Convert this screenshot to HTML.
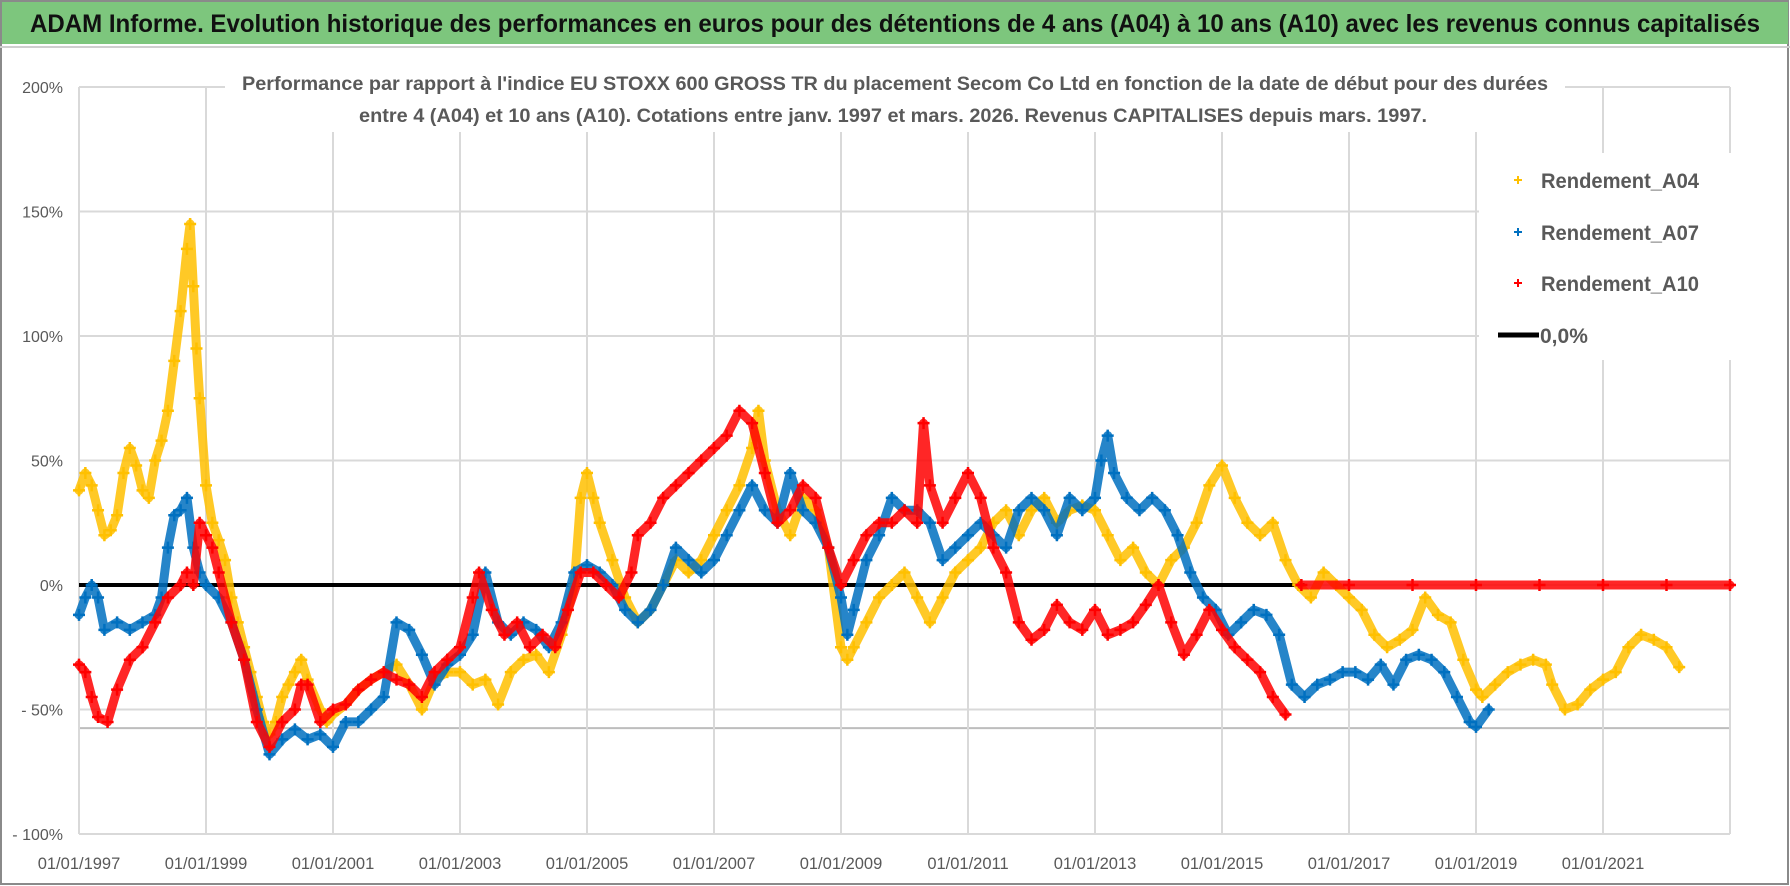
<!DOCTYPE html>
<html><head><meta charset="utf-8">
<style>
html,body{margin:0;padding:0;background:#fff;}
svg{display:block;font-family:"Liberation Sans",sans-serif;}
</style></head>
<body>
<svg id="chart" width="1790" height="886" viewBox="0 0 1790 886" xmlns="http://www.w3.org/2000/svg">
  <rect x="0" y="0" width="1790" height="886" fill="#fff"/>
  <rect x="1" y="1" width="1787" height="883" fill="none" stroke="#8a8a8a" stroke-width="2"/>
  <rect x="2" y="2" width="1786" height="42" fill="#7dc67d"/>
  <line x1="0" y1="47" x2="1790" y2="47" stroke="#cfcfcf" stroke-width="2"/>
  <text x="895" y="32" text-anchor="middle" font-size="25" font-weight="bold" fill="#111" textLength="1730" lengthAdjust="spacingAndGlyphs">ADAM Informe. Evolution historique des performances en euros pour des détentions de 4 ans (A04) à 10 ans (A10) avec les revenus connus capitalisés</text>
  <g id="grid"></g>
  <rect x="225" y="66" width="1340" height="66" fill="#fff"/>
  <text x="895" y="90" text-anchor="middle" font-size="19" font-weight="bold" fill="#595959" textLength="1306" lengthAdjust="spacingAndGlyphs">Performance par rapport à l'indice EU STOXX 600 GROSS TR  du placement Secom Co Ltd en fonction de la date de début pour des durées</text>
  <text x="893" y="122" text-anchor="middle" font-size="19" font-weight="bold" fill="#595959" textLength="1068" lengthAdjust="spacingAndGlyphs">entre 4 (A04) et 10 ans (A10).  Cotations entre janv. 1997 et mars. 2026.  Revenus CAPITALISES depuis mars. 1997.</text>
  <g id="ylabels"></g>
  <g id="xlabels"></g>
  <line id="zero" stroke="#000" stroke-width="4"/>
  <g id="series"></g>
  <g id="legend">
    <rect x="1479" y="153" width="259" height="207" fill="#fff"/>
  </g>
</svg>
<script>
const yTicks = [200,150,100,50,0,-50,-100];
const yTickLabels = ["200%","150%","100%","50%","0%","- 50%","- 100%"];
const xTickYears = [1997,1999,2001,2003,2005,2007,2009,2011,2013,2015,2017,2019,2021];
const xTickLabels = ["01/01/1997","01/01/1999","01/01/2001","01/01/2003","01/01/2005","01/01/2007","01/01/2009","01/01/2011","01/01/2013","01/01/2015","01/01/2017","01/01/2019","01/01/2021"];
const minLineValue = -57.5;

const a04Dates = [1997.0,1997.1,1997.2,1997.3,1997.4,1997.5,1997.6,1997.7,1997.8,1997.9,1998.0,1998.1,1998.2,1998.3,1998.4,1998.5,1998.6,1998.7,1998.75,1998.8,1998.85,1998.9,1999.0,1999.1,1999.2,1999.3,1999.4,1999.5,1999.6,1999.7,1999.8,1999.9,2000.0,2000.1,2000.2,2000.3,2000.4,2000.5,2000.6,2000.8,2000.9,2001.0,2001.2,2001.4,2001.6,2001.8,2002.0,2002.2,2002.4,2002.6,2002.8,2003.0,2003.2,2003.4,2003.6,2003.8,2004.0,2004.2,2004.4,2004.6,2004.8,2004.9,2005.0,2005.1,2005.2,2005.4,2005.6,2005.8,2006.0,2006.2,2006.4,2006.6,2006.8,2007.0,2007.2,2007.4,2007.6,2007.7,2007.8,2008.0,2008.2,2008.4,2008.6,2008.8,2009.0,2009.1,2009.2,2009.4,2009.6,2009.8,2010.0,2010.2,2010.4,2010.6,2010.8,2011.0,2011.2,2011.4,2011.6,2011.8,2012.0,2012.2,2012.4,2012.6,2012.8,2013.0,2013.2,2013.4,2013.6,2013.8,2014.0,2014.2,2014.4,2014.6,2014.8,2015.0,2015.2,2015.4,2015.6,2015.8,2016.0,2016.2,2016.4,2016.6,2016.8,2017.0,2017.2,2017.4,2017.6,2017.8,2018.0,2018.2,2018.4,2018.6,2018.8,2019.0,2019.1,2019.3,2019.5,2019.7,2019.9,2020.1,2020.2,2020.4,2020.6,2020.8,2021.0,2021.2,2021.4,2021.6,2021.8,2022.0,2022.2];
const a04Values = [38,45,40,30,20,22,28,45,55,48,38,35,50,58,70,90,110,135,145,120,95,75,40,25,18,10,-5,-15,-25,-35,-45,-55,-60,-55,-45,-40,-35,-30,-38,-50,-55,-52,-48,-42,-38,-35,-32,-40,-50,-38,-35,-35,-40,-38,-48,-35,-30,-28,-35,-20,0,35,45,35,25,10,-5,-15,-10,0,10,5,10,20,30,40,55,70,50,30,20,35,30,15,-25,-30,-25,-15,-5,0,5,-5,-15,-5,5,10,15,25,30,20,30,35,25,30,32,30,20,10,15,5,0,10,15,25,40,48,35,25,20,25,10,0,-5,5,0,-5,-10,-20,-25,-22,-18,-5,-12,-15,-30,-42,-45,-40,-35,-32,-30,-32,-40,-50,-48,-42,-38,-35,-25,-20,-22,-25,-33];

const a07Dates = [1997.0,1997.1,1997.2,1997.3,1997.4,1997.6,1997.8,1998.0,1998.2,1998.3,1998.4,1998.5,1998.6,1998.7,1998.8,1998.9,1999.0,1999.2,1999.4,1999.6,1999.8,2000.0,2000.2,2000.4,2000.6,2000.8,2001.0,2001.2,2001.4,2001.6,2001.8,2002.0,2002.2,2002.4,2002.6,2002.8,2003.0,2003.2,2003.4,2003.6,2003.8,2004.0,2004.2,2004.4,2004.6,2004.8,2005.0,2005.2,2005.4,2005.6,2005.8,2006.0,2006.2,2006.4,2006.6,2006.8,2007.0,2007.2,2007.4,2007.6,2007.8,2008.0,2008.2,2008.4,2008.6,2008.8,2009.0,2009.1,2009.2,2009.4,2009.6,2009.8,2010.0,2010.2,2010.4,2010.6,2010.8,2011.0,2011.2,2011.4,2011.6,2011.8,2012.0,2012.2,2012.4,2012.6,2012.8,2013.0,2013.1,2013.2,2013.3,2013.5,2013.7,2013.9,2014.1,2014.3,2014.5,2014.7,2014.9,2015.1,2015.3,2015.5,2015.7,2015.9,2016.1,2016.3,2016.5,2016.7,2016.9,2017.1,2017.3,2017.5,2017.7,2017.9,2018.1,2018.3,2018.5,2018.7,2018.9,2019.0,2019.2];
const a07Values = [-12,-5,0,-5,-18,-15,-18,-15,-12,-5,15,28,30,35,15,5,0,-5,-15,-30,-50,-68,-62,-58,-62,-60,-65,-55,-55,-50,-45,-15,-18,-28,-40,-32,-28,-20,5,-15,-20,-15,-18,-25,-15,5,8,5,0,-10,-15,-10,0,15,10,5,10,20,30,40,30,25,45,30,25,15,-5,-20,-10,10,20,35,30,30,25,10,15,20,25,20,15,30,35,30,20,35,30,35,50,60,45,35,30,35,30,20,5,-5,-10,-20,-15,-10,-12,-20,-40,-45,-40,-38,-35,-35,-38,-32,-40,-30,-28,-30,-35,-45,-55,-57,-50];

const a10Dates = [1997.0,1997.1,1997.2,1997.3,1997.45,1997.6,1997.8,1998.0,1998.2,1998.4,1998.6,1998.7,1998.8,1998.9,1999.0,1999.1,1999.2,1999.4,1999.6,1999.8,2000.0,2000.2,2000.4,2000.5,2000.6,2000.8,2001.0,2001.2,2001.4,2001.6,2001.8,2002.0,2002.2,2002.4,2002.6,2002.8,2003.0,2003.2,2003.3,2003.5,2003.7,2003.9,2004.1,2004.3,2004.5,2004.7,2004.9,2005.1,2005.3,2005.5,2005.7,2005.8,2006.0,2006.2,2006.4,2006.6,2006.8,2007.0,2007.2,2007.4,2007.6,2007.8,2008.0,2008.2,2008.4,2008.6,2008.8,2009.0,2009.2,2009.4,2009.6,2009.8,2010.0,2010.2,2010.3,2010.4,2010.6,2010.8,2011.0,2011.2,2011.4,2011.6,2011.8,2012.0,2012.2,2012.4,2012.6,2012.8,2013.0,2013.2,2013.4,2013.6,2013.8,2014.0,2014.2,2014.4,2014.6,2014.8,2015.0,2015.2,2015.4,2015.6,2015.8,2016.0,2016.25,2017.0,2018.0,2019.0,2020.0,2021.0,2022.0,2023.0];
const a10Values = [-32,-35,-45,-53,-55,-42,-30,-25,-15,-5,0,5,0,25,20,15,5,-15,-30,-55,-65,-55,-50,-40,-40,-55,-50,-48,-42,-38,-35,-38,-40,-45,-35,-30,-25,-5,5,-10,-20,-15,-25,-20,-25,-10,5,5,0,-5,5,20,25,35,40,45,50,55,60,70,65,45,25,30,40,35,15,0,10,20,25,25,30,25,65,40,25,35,45,35,15,5,-15,-22,-18,-8,-15,-18,-10,-20,-18,-15,-8,0,-15,-28,-20,-10,-18,-25,-30,-35,-45,-52,0,0,0,0,0,0,0,0];

const NS = "http://www.w3.org/2000/svg";
const X0 = 79, X1 = 1730, Y_TOP = 87, Y_BOT = 834;
const YEAR0 = 1997, YEAR1 = 2023, VMAX = 200, VMIN = -100;
function xScale(yr){ return X0 + (yr - YEAR0) / (YEAR1 - YEAR0) * (X1 - X0); }
function yScale(v){ return Y_TOP + (VMAX - v) / (VMAX - VMIN) * (Y_BOT - Y_TOP); }
function mk(tag, attrs, parent){ const e = document.createElementNS(NS, tag); for (const k in attrs) e.setAttribute(k, attrs[k]); parent.appendChild(e); return e; }

const grid = document.getElementById('grid');
yTicks.forEach(function(v){
  const l = mk('line', {x1:X0, x2:X1, y1:yScale(v), y2:yScale(v), stroke:'#d9d9d9', 'stroke-width':2}, grid);
  
  
});
const ml = mk('line', {x1:X0, x2:X1, y1:yScale(minLineValue), y2:yScale(minLineValue), stroke:'#bdbdbd', 'stroke-width':2}, grid);


xTickYears.concat([YEAR1]).forEach(function(yr){
  const l = mk('line', {x1:xScale(yr), x2:xScale(yr), y1:Y_TOP, y2:Y_BOT, stroke:'#d9d9d9', 'stroke-width':2}, grid);
  
  
});

const yl = document.getElementById('ylabels');
yTicks.forEach(function(v, i){
  const t = mk('text', {x:63, y:yScale(v)+6, 'text-anchor':'end', 'font-size':16, fill:'#595959'}, yl);
  t.textContent = yTickLabels[i];
  
  
});
const xl = document.getElementById('xlabels');
xTickYears.forEach(function(yr, i){
  const t = mk('text', {x:xScale(yr), y:869, 'text-anchor':'middle', 'font-size':16.5, fill:'#595959'}, xl);
  t.textContent = xTickLabels[i];
  
  
});

const z = document.getElementById('zero');
z.setAttribute('x1', X0); z.setAttribute('x2', xScale(2016.3));
z.setAttribute('y1', yScale(0)); z.setAttribute('y2', yScale(0));

const sg = document.getElementById('series');
function plus(cx, cy, s){ return 'M'+(cx-s)+' '+cy+'H'+(cx+s)+'M'+cx+' '+(cy-s)+'V'+(cy+s); }
function drawSeries(dates, values, color, name){
  const g = mk('g', {}, sg);
  
  
  let d = '';
  dates.forEach(function(yr, i){
    const brk = i === 0 || Math.abs(values[i] - values[i-1]) > 45;
    d += (brk ? 'M' : 'L') + xScale(yr).toFixed(1) + ' ' + yScale(values[i]).toFixed(1);
  });
  const line = mk('path', {d:d, fill:'none', stroke:color, 'stroke-width':9, 'stroke-linejoin':'round', 'stroke-linecap':'round', opacity:0.85}, g);
  
  
  let pd = '';
  dates.forEach(function(yr, i){ pd += plus(xScale(yr), yScale(values[i]), 6); });
  const pts = mk('path', {d:pd, fill:'none', stroke:color, 'stroke-width':2.5}, g);
  
  
}
drawSeries(a04Dates, a04Values, '#ffc000', 'series-a04');
drawSeries(a07Dates, a07Values, '#0070c0', 'series-a07');
drawSeries(a10Dates, a10Values, '#ff0000', 'series-a10');

const lg = document.getElementById('legend');
const entries = [['Rendement_A04','#ffc000',180],['Rendement_A07','#0070c0',232],['Rendement_A10','#ff0000',283]];
entries.forEach(function(e){
  const m = mk('path', {d:plus(1518, e[2], 4), stroke:e[1], 'stroke-width':2, fill:'none'}, lg);
  
  
  const t = mk('text', {x:1541, y:e[2]+8, 'font-size':21, 'font-weight':'bold', fill:'#595959', textLength:158, lengthAdjust:'spacingAndGlyphs'}, lg);
  t.textContent = e[0];
  
  
});
const zl = mk('line', {x1:1498, x2:1539, y1:335, y2:335, stroke:'#000', 'stroke-width':5}, lg);


const zt = mk('text', {x:1540, y:343, 'font-size':21, 'font-weight':'bold', fill:'#595959'}, lg);
zt.textContent = '0,0%';


</script>
</body></html>
